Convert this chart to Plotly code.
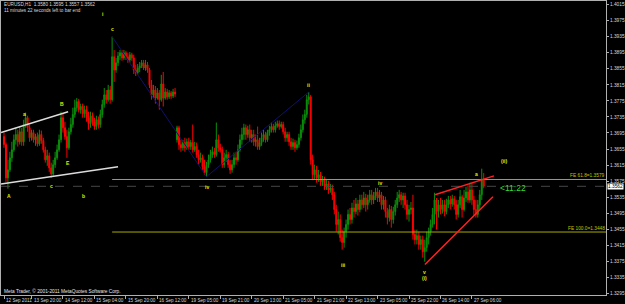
import plotly.graph_objects as go

# ---------------- data (EURUSD H1) ----------------
bar_index = list(range(245))

open_ = [
    1.3686, 1.3666, 1.3583, 1.3603, 1.3633, 1.3653, 1.3678, 1.3691, 1.3673, 1.3698,
    1.3673, 1.3716, 1.3733, 1.3708, 1.3683, 1.3696, 1.3678, 1.3686, 1.3668, 1.3691,
    1.3676, 1.3653, 1.3628, 1.3638, 1.3608, 1.3593, 1.3616, 1.3633, 1.3653, 1.3678,
    1.3733, 1.3708, 1.3686, 1.3658, 1.3698, 1.3716, 1.3741, 1.3758, 1.3773, 1.3753,
    1.3761, 1.3743, 1.3753, 1.3733, 1.3718, 1.3738, 1.3723, 1.3711, 1.3728, 1.3716,
    1.3741, 1.3766, 1.3790, 1.3778, 1.3802, 1.3778, 1.3885, 1.3852, 1.3870, 1.3887,
    1.3895, 1.3882, 1.3895, 1.3885, 1.3877, 1.3890, 1.3882, 1.3852, 1.3845, 1.3857,
    1.3862, 1.3870, 1.3857, 1.3865, 1.3852, 1.3815, 1.3790, 1.3802, 1.3782, 1.3795,
    1.3778, 1.3817, 1.3782, 1.3797, 1.3785, 1.3795, 1.3787, 1.3797, 1.3678, 1.3708,
    1.3666, 1.3658, 1.3671, 1.3658, 1.3673, 1.3661, 1.3671, 1.3653, 1.3661, 1.3641,
    1.3628, 1.3633, 1.3611, 1.3596, 1.3616, 1.3628, 1.3641, 1.3648, 1.3641, 1.3678,
    1.3658, 1.3653, 1.3616, 1.3633, 1.3641, 1.3616, 1.3603, 1.3616, 1.3633, 1.3628,
    1.3653, 1.3678, 1.3691, 1.3708, 1.3691, 1.3703, 1.3683, 1.3691, 1.3673, 1.3678,
    1.3661, 1.3671, 1.3683, 1.3691, 1.3678, 1.3696, 1.3703, 1.3711, 1.3703, 1.3713,
    1.3718, 1.3711, 1.3716, 1.3698, 1.3683, 1.3691, 1.3673, 1.3661, 1.3671, 1.3658,
    1.3666, 1.3683, 1.3703, 1.3728, 1.3741, 1.3778, 1.3785, 1.3628, 1.3591, 1.3603,
    1.3583, 1.3591, 1.3573, 1.3578, 1.3563, 1.3568, 1.3553, 1.3558, 1.3541, 1.3504,
    1.3467, 1.3479, 1.3434, 1.3422, 1.3449, 1.3467, 1.3492, 1.3479, 1.3508, 1.3499,
    1.3518, 1.3504, 1.3528, 1.3516, 1.3533, 1.3516, 1.3528, 1.3541, 1.3528, 1.3538,
    1.3548, 1.3533, 1.3541, 1.3516, 1.3528, 1.3499, 1.3484, 1.3504, 1.3479, 1.3499,
    1.3516, 1.3533, 1.3541, 1.3528, 1.3538, 1.3516, 1.3492, 1.3504, 1.3508, 1.3442,
    1.3429, 1.3439, 1.3417, 1.3429, 1.3399, 1.3409, 1.3434, 1.3449, 1.3467, 1.3492,
    1.3528, 1.3499, 1.3516, 1.3504, 1.3516, 1.3499, 1.3516, 1.3528, 1.3518, 1.3531,
    1.3516, 1.3492, 1.3516, 1.3536, 1.3504, 1.3533, 1.3548, 1.3528, 1.3553, 1.3528,
    1.3504, 1.3492, 1.3516, 1.3541, 1.3580,
]

high = [
    1.3696, 1.3671, 1.3628, 1.3648, 1.3673, 1.3691, 1.3708, 1.3703, 1.3711, 1.3708,
    1.3728, 1.3746, 1.3738, 1.3716, 1.3703, 1.3703, 1.3693, 1.3696, 1.3703, 1.3701,
    1.3683, 1.3661, 1.3653, 1.3646, 1.3621, 1.3628, 1.3648, 1.3666, 1.3691, 1.3748,
    1.3743, 1.3723, 1.3703, 1.3708, 1.3733, 1.3758, 1.3778, 1.3782, 1.3780, 1.3768,
    1.3768, 1.3763, 1.3763, 1.3748, 1.3748, 1.3746, 1.3733, 1.3738, 1.3736, 1.3753,
    1.3778, 1.3807, 1.3802, 1.3815, 1.3812, 1.3935, 1.3902, 1.3882, 1.3897, 1.3902,
    1.3902, 1.3902, 1.3900, 1.3895, 1.3897, 1.3895, 1.3890, 1.3865, 1.3867, 1.3872,
    1.3877, 1.3877, 1.3877, 1.3872, 1.3857, 1.3827, 1.3815, 1.3812, 1.3807, 1.3802,
    1.3840, 1.3847, 1.3807, 1.3805, 1.3802, 1.3800, 1.3805, 1.3807, 1.3713, 1.3713,
    1.3678, 1.3678, 1.3683, 1.3681, 1.3683, 1.3678, 1.3716, 1.3673, 1.3671, 1.3653,
    1.3646, 1.3641, 1.3628, 1.3623, 1.3641, 1.3653, 1.3661, 1.3658, 1.3721, 1.3691,
    1.3668, 1.3661, 1.3646, 1.3653, 1.3648, 1.3628, 1.3628, 1.3646, 1.3648, 1.3666,
    1.3691, 1.3708, 1.3718, 1.3716, 1.3713, 1.3716, 1.3703, 1.3703, 1.3691, 1.3711,
    1.3683, 1.3696, 1.3703, 1.3698, 1.3703, 1.3713, 1.3721, 1.3718, 1.3723, 1.3726,
    1.3726, 1.3723, 1.3723, 1.3708, 1.3698, 1.3698, 1.3683, 1.3681, 1.3678, 1.3676,
    1.3693, 1.3716, 1.3741, 1.3753, 1.3790, 1.3797, 1.3790, 1.3641, 1.3616, 1.3613,
    1.3603, 1.3598, 1.3588, 1.3586, 1.3578, 1.3576, 1.3568, 1.3566, 1.3548, 1.3516,
    1.3499, 1.3492, 1.3454, 1.3459, 1.3479, 1.3504, 1.3508, 1.3521, 1.3528, 1.3533,
    1.3528, 1.3541, 1.3541, 1.3548, 1.3543, 1.3541, 1.3553, 1.3553, 1.3548, 1.3558,
    1.3558, 1.3553, 1.3548, 1.3538, 1.3536, 1.3508, 1.3516, 1.3513, 1.3511, 1.3528,
    1.3548, 1.3553, 1.3548, 1.3546, 1.3546, 1.3528, 1.3516, 1.3523, 1.3541, 1.3454,
    1.3454, 1.3449, 1.3439, 1.3439, 1.3429, 1.3449, 1.3459, 1.3479, 1.3508, 1.3546,
    1.3533, 1.3528, 1.3533, 1.3528, 1.3528, 1.3531, 1.3538, 1.3538, 1.3541, 1.3538,
    1.3528, 1.3528, 1.3553, 1.3541, 1.3553, 1.3561, 1.3563, 1.3571, 1.3571, 1.3538,
    1.3528, 1.3528, 1.3553, 1.3606, 1.3595,
]

low = [
    1.3658, 1.3573, 1.3556, 1.3598, 1.3623, 1.3648, 1.3666, 1.3661, 1.3666, 1.3663,
    1.3663, 1.3708, 1.3698, 1.3673, 1.3676, 1.3671, 1.3663, 1.3661, 1.3663, 1.3668,
    1.3646, 1.3621, 1.3613, 1.3598, 1.3583, 1.3588, 1.3608, 1.3628, 1.3648, 1.3671,
    1.3696, 1.3678, 1.3633, 1.3653, 1.3691, 1.3708, 1.3733, 1.3748, 1.3746, 1.3743,
    1.3733, 1.3733, 1.3723, 1.3703, 1.3708, 1.3713, 1.3703, 1.3703, 1.3706, 1.3708,
    1.3733, 1.3758, 1.3768, 1.3773, 1.3768, 1.3773, 1.3822, 1.3845, 1.3862, 1.3877,
    1.3875, 1.3877, 1.3877, 1.3870, 1.3870, 1.3875, 1.3842, 1.3837, 1.3840, 1.3847,
    1.3857, 1.3852, 1.3850, 1.3845, 1.3807, 1.3778, 1.3782, 1.3768, 1.3778, 1.3753,
    1.3773, 1.3761, 1.3778, 1.3778, 1.3780, 1.3780, 1.3782, 1.3785, 1.3671, 1.3653,
    1.3648, 1.3651, 1.3648, 1.3653, 1.3653, 1.3653, 1.3646, 1.3648, 1.3633, 1.3616,
    1.3621, 1.3603, 1.3591, 1.3586, 1.3608, 1.3621, 1.3633, 1.3633, 1.3636, 1.3648,
    1.3646, 1.3608, 1.3608, 1.3623, 1.3608, 1.3593, 1.3596, 1.3608, 1.3616, 1.3623,
    1.3648, 1.3666, 1.3678, 1.3678, 1.3683, 1.3673, 1.3671, 1.3663, 1.3661, 1.3653,
    1.3653, 1.3663, 1.3673, 1.3671, 1.3673, 1.3688, 1.3696, 1.3696, 1.3696, 1.3708,
    1.3703, 1.3706, 1.3691, 1.3673, 1.3673, 1.3663, 1.3653, 1.3653, 1.3648, 1.3653,
    1.3658, 1.3676, 1.3696, 1.3718, 1.3733, 1.3766, 1.3616, 1.3578, 1.3578, 1.3571,
    1.3573, 1.3563, 1.3563, 1.3553, 1.3553, 1.3543, 1.3546, 1.3528, 1.3492, 1.3449,
    1.3442, 1.3424, 1.3404, 1.3409, 1.3434, 1.3454, 1.3467, 1.3469, 1.3484, 1.3492,
    1.3489, 1.3497, 1.3504, 1.3508, 1.3499, 1.3504, 1.3521, 1.3516, 1.3518, 1.3528,
    1.3523, 1.3523, 1.3504, 1.3504, 1.3484, 1.3467, 1.3474, 1.3459, 1.3469, 1.3489,
    1.3508, 1.3523, 1.3516, 1.3508, 1.3504, 1.3479, 1.3474, 1.3492, 1.3429, 1.3417,
    1.3417, 1.3404, 1.3404, 1.3384, 1.3374, 1.3399, 1.3417, 1.3439, 1.3459, 1.3467,
    1.3454, 1.3484, 1.3492, 1.3494, 1.3487, 1.3492, 1.3508, 1.3504, 1.3511, 1.3504,
    1.3479, 1.3484, 1.3508, 1.3484, 1.3499, 1.3523, 1.3521, 1.3521, 1.3516, 1.3489,
    1.3484, 1.3484, 1.3504, 1.3528, 1.3557,
]

close = [
    1.3666, 1.3583, 1.3603, 1.3633, 1.3653, 1.3678, 1.3691, 1.3673, 1.3698, 1.3673,
    1.3716, 1.3733, 1.3708, 1.3683, 1.3696, 1.3678, 1.3686, 1.3668, 1.3691, 1.3676,
    1.3653, 1.3628, 1.3638, 1.3608, 1.3593, 1.3616, 1.3633, 1.3653, 1.3678, 1.3733,
    1.3708, 1.3686, 1.3658, 1.3698, 1.3716, 1.3741, 1.3758, 1.3773, 1.3753, 1.3761,
    1.3743, 1.3753, 1.3733, 1.3718, 1.3738, 1.3723, 1.3711, 1.3728, 1.3716, 1.3741,
    1.3766, 1.3790, 1.3778, 1.3802, 1.3778, 1.3885, 1.3852, 1.3870, 1.3887, 1.3895,
    1.3882, 1.3895, 1.3885, 1.3877, 1.3890, 1.3882, 1.3852, 1.3845, 1.3857, 1.3862,
    1.3870, 1.3857, 1.3865, 1.3852, 1.3815, 1.3790, 1.3802, 1.3782, 1.3795, 1.3778,
    1.3817, 1.3782, 1.3797, 1.3785, 1.3795, 1.3787, 1.3797, 1.3792, 1.3708, 1.3666,
    1.3658, 1.3671, 1.3658, 1.3673, 1.3661, 1.3671, 1.3653, 1.3661, 1.3641, 1.3628,
    1.3633, 1.3611, 1.3596, 1.3616, 1.3628, 1.3641, 1.3648, 1.3641, 1.3678, 1.3658,
    1.3653, 1.3616, 1.3633, 1.3641, 1.3616, 1.3603, 1.3616, 1.3633, 1.3628, 1.3653,
    1.3678, 1.3691, 1.3708, 1.3691, 1.3703, 1.3683, 1.3691, 1.3673, 1.3678, 1.3661,
    1.3671, 1.3683, 1.3691, 1.3678, 1.3696, 1.3703, 1.3711, 1.3703, 1.3713, 1.3718,
    1.3711, 1.3716, 1.3698, 1.3683, 1.3691, 1.3673, 1.3661, 1.3671, 1.3658, 1.3666,
    1.3683, 1.3703, 1.3728, 1.3741, 1.3778, 1.3785, 1.3628, 1.3591, 1.3603, 1.3583,
    1.3591, 1.3573, 1.3578, 1.3563, 1.3568, 1.3553, 1.3558, 1.3541, 1.3504, 1.3467,
    1.3479, 1.3434, 1.3422, 1.3449, 1.3467, 1.3492, 1.3479, 1.3508, 1.3499, 1.3518,
    1.3504, 1.3528, 1.3516, 1.3533, 1.3516, 1.3528, 1.3541, 1.3528, 1.3538, 1.3548,
    1.3533, 1.3541, 1.3516, 1.3528, 1.3499, 1.3484, 1.3504, 1.3479, 1.3499, 1.3516,
    1.3533, 1.3541, 1.3528, 1.3538, 1.3516, 1.3492, 1.3504, 1.3508, 1.3442, 1.3429,
    1.3439, 1.3417, 1.3429, 1.3399, 1.3409, 1.3434, 1.3449, 1.3467, 1.3492, 1.3528,
    1.3499, 1.3516, 1.3504, 1.3516, 1.3499, 1.3516, 1.3528, 1.3518, 1.3531, 1.3516,
    1.3492, 1.3516, 1.3536, 1.3504, 1.3533, 1.3548, 1.3528, 1.3553, 1.3528, 1.3504,
    1.3492, 1.3516, 1.3541, 1.3580, 1.3562,
]

# time axis labels (bar index where the label starts)
time_tick_bars = [0, 14, 30, 46, 62, 78, 94, 110, 126, 142, 158, 174, 190, 206, 222, 238]
time_tick_labels = ["12 Sep 2011", "13 Sep 20:00", "14 Sep 12:00", "15 Sep 04:00",
                    "15 Sep 20:00", "16 Sep 12:00", "19 Sep 05:00", "19 Sep 21:00",
                    "20 Sep 13:00", "21 Sep 05:00", "21 Sep 21:00", "22 Sep 13:00",
                    "23 Sep 05:00", "25 Sep 22:00", "26 Sep 14:00", "27 Sep 06:00"]

price_tick_labels = ["1.4015", "1.3975", "1.3935", "1.3895", "1.3855", "1.3815", "1.3775",
                     "1.3735", "1.3695", "1.3655", "1.3615", "1.3575", "1.3535", "1.3495",
                     "1.3455", "1.3415", "1.3375", "1.3335", "1.3295"]
price_tick_values = [float(s) for s in price_tick_labels]

# Fibonacci expansion levels
fe_levels = [1.3579, 1.3448]
fe_labels = ["FE 61.8=1.3579", "FE 100.0=1.3448"]
fe_start_bar = 55

# zigzag pivots (bar, price)
zigzag_bars = [55, 103, 155]
zigzag_prices = [high[55], low[103], high[155]]

# trend lines: (bar0, price0, bar1, price1)
white_lines = [(-1.5, 1.3696, 32.6, 1.3748), (-1.5, 1.3568, 58.0, 1.3611)]
red_lines = [(219.2, 1.3541, 249.2, 1.3588), (214.1, 1.3367, 248.7, 1.3536)]

# Elliott wave labels
wave_bars = [2.5, 10.2, 24.4, 29.5, 32.6, 40.2, 50.4, 55.4, 103.3, 155.1, 172.9, 191.3, 214.1, 214.1, 240.1, 254.3]
wave_prices = [1.3538, 1.3743, 1.3563, 1.3766, 1.3621, 1.3538, 1.3992, 1.3954, 1.3561, 1.3815, 1.3367, 1.3571, 1.3349, 1.3334, 1.3593, 1.3626]
wave_texts = ["A", "a", "c", "B", "E", "b", "i", "c", "iv", "ii", "iii", "iv", "v", "(i)", "a", "(ii)"]

header1 = "EURUSD,H1  1.3580 1.3595 1.3557 1.3562"
header2 = "11 minutes 22 seconds left to bar end"
footer = "Meta Trader, \u00a9 2001-2011 MetaQuotes Software Corp."
time_left = "<11:22"
time_left_bar = 251.8
time_left_price = 1.3557

# ---------------- figure ----------------
X_RANGE = [-1.53, 306.2]
Y_RANGE = [1.3291, 1.4024]
FONT = "Liberation Sans"

fig = go.Figure()
fig.add_trace(go.Candlestick(
    x=bar_index, open=open_, high=high, low=low, close=close,
    increasing=dict(line=dict(color="#0b8f0b", width=1), fillcolor="#0b8f0b"),
    decreasing=dict(line=dict(color="#ff0000", width=1), fillcolor="#ff0000"),
    whiskerwidth=0, hoverinfo="skip", showlegend=False,
))

# zigzag
fig.add_trace(go.Scatter(x=zigzag_bars, y=zigzag_prices, mode="lines",
                         line=dict(color="#101070", width=1), hoverinfo="skip", showlegend=False))

shapes = []
for lvl in fe_levels:
    shapes.append(dict(type="line", xref="x", yref="y", x0=fe_start_bar, x1=X_RANGE[1],
                       y0=lvl, y1=lvl, line=dict(color="#a9a900", width=1)))
shapes.append(dict(type="line", xref="paper", yref="y", x0=0, x1=1, y0=close[-1], y1=close[-1],
                   line=dict(color="#474747", width=1, dash="dash")))
for (b0, p0, b1, p1) in white_lines:
    shapes.append(dict(type="line", xref="x", yref="y", x0=b0, y0=p0, x1=b1, y1=p1,
                       line=dict(color="#dcdcdc", width=1.5)))
for (b0, p0, b1, p1) in red_lines:
    shapes.append(dict(type="line", xref="x", yref="y", x0=b0, y0=p0, x1=b1, y1=p1,
                       line=dict(color="#ff2020", width=1.5)))

ann = []
ann.append(dict(text=header1, xref="paper", yref="paper", x=0.003, y=0.987, xanchor="left",
                yanchor="middle", showarrow=False, borderpad=0,
                font=dict(size=4.7, color="#d8d8d8", family=FONT)))
ann.append(dict(text=header2, xref="paper", yref="paper", x=0.004, y=0.969, xanchor="left",
                yanchor="middle", showarrow=False, borderpad=0,
                font=dict(size=4.6, color="#d8d8d8", family=FONT)))
ann.append(dict(text=footer, xref="paper", yref="paper", x=0.003, y=0.012, xanchor="left",
                yanchor="middle", showarrow=False, borderpad=0,
                font=dict(size=4.8, color="#e8e8e8", family=FONT)))
for lvl, lab in zip(fe_levels, fe_labels):
    ann.append(dict(text=lab, xref="paper", yref="y", x=1, y=lvl, xanchor="right", yanchor="bottom",
                    showarrow=False, borderpad=0, font=dict(size=4.8, color="#c0c000", family=FONT)))
for b, p, t in zip(wave_bars, wave_prices, wave_texts):
    ann.append(dict(text="<b>" + t + "</b>", xref="x", yref="y", x=b, y=p, xanchor="center",
                    yanchor="middle", showarrow=False, borderpad=0,
                    font=dict(size=5, color="#e8e800", family=FONT)))
ann.append(dict(text=time_left, xref="x", yref="y", x=time_left_bar, y=time_left_price,
                xanchor="left", yanchor="middle", showarrow=False, borderpad=0,
                font=dict(size=8.5, color="#33dd33", family=FONT)))
ann.append(dict(text="%.4f" % close[-1], xref="paper", yref="y", x=1, y=close[-1], xanchor="left",
                yanchor="middle", xshift=1, showarrow=False, borderpad=0, bgcolor="#ffffff",
                font=dict(size=4.8, color="#000000", family=FONT)))
# time labels: placed to the right of each tick, just under the axis
for b, t in zip(time_tick_bars, time_tick_labels):
    ann.append(dict(text=t, xref="x", yref="paper", x=b, y=0, xanchor="left", yanchor="top",
                    xshift=1, yshift=-1.5, showarrow=False, borderpad=0,
                    font=dict(size=4.6, color="#d8d8d8", family=FONT)))

fig.update_layout(
    width=625, height=304,
    margin=dict(l=1, r=19, t=1, b=9, pad=0),
    paper_bgcolor="#000000", plot_bgcolor="#000000",
    showlegend=False, hovermode=False,
    shapes=shapes, annotations=ann,
    xaxis=dict(range=X_RANGE, rangeslider=dict(visible=False), showgrid=False, zeroline=False,
               tickmode="array", tickvals=time_tick_bars, showticklabels=False,
               ticks="outside", ticklen=3, tickcolor="#b0b0b0",
               showline=True, linecolor="#b0b0b0", linewidth=1, mirror=True, automargin=False),
    yaxis=dict(range=Y_RANGE, side="right", showgrid=False, zeroline=False,
               tickmode="array", tickvals=price_tick_values, ticktext=price_tick_labels,
               ticks="outside", ticklen=2, tickcolor="#b0b0b0",
               tickfont=dict(size=4.8, color="#d8d8d8", family=FONT),
               showline=True, linecolor="#b0b0b0", linewidth=1, mirror=True, automargin=False),
)

fig.write_html("out.html")
